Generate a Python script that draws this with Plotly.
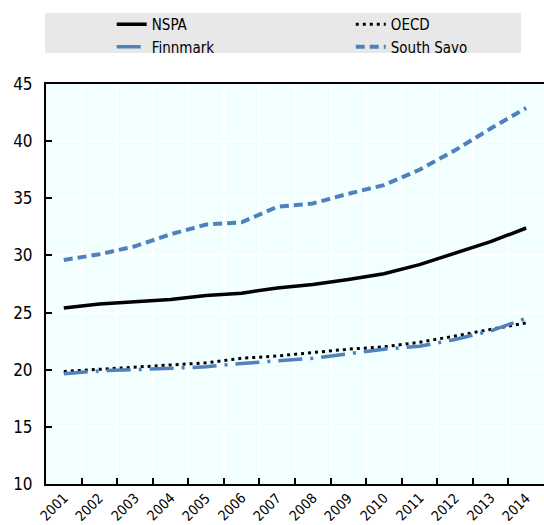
import plotly.graph_objects as go

BLUE = "#4F81BD"
FONT = "Liberation Sans Narrow, DejaVu Sans Condensed, Liberation Sans, sans-serif"

years = [str(y) for y in range(2001, 2015)]
nspa = [25.4, 25.75, 25.95, 26.15, 26.5, 26.7, 27.15, 27.45, 27.9, 28.4, 29.2, 30.2, 31.2, 32.4]
oecd = [19.85, 20.05, 20.25, 20.4, 20.6, 21.0, 21.2, 21.5, 21.8, 22.0, 22.4, 22.95, 23.5, 24.1]
finnmark = [19.65, 19.9, 20.0, 20.1, 20.25, 20.55, 20.75, 21.0, 21.4, 21.8, 22.05, 22.65, 23.4, 24.5]
south_savo = [29.6, 30.1, 30.8, 31.85, 32.7, 32.9, 34.25, 34.55, 35.4, 36.15, 37.5, 39.2, 41.1, 42.9]

fig = go.Figure()
fig.add_trace(go.Scatter(x=years, y=nspa, name="NSPA", mode="lines", legend="legend",
                         line=dict(color="black", width=3.5)))
fig.add_trace(go.Scatter(x=years, y=oecd, name="OECD", mode="lines", legend="legend2",
                         line=dict(color="black", width=3, dash="3px,4px")))
fig.add_trace(go.Scatter(x=years, y=finnmark, name="Finnmark", mode="lines", legend="legend",
                         line=dict(color=BLUE, width=3.5, dash="24px,8px,3px,8px")))
fig.add_trace(go.Scatter(x=years, y=south_savo, name="South Savo", mode="lines", legend="legend2",
                         line=dict(color=BLUE, width=4, dash="9px,5px")))

# grey band behind the legend
fig.add_shape(type="rect", xref="paper", yref="paper",
              x0=-0.002, x1=0.954, y0=1.0775, y1=1.1775,
              fillcolor="#E8E8E8", line_width=0, layer="below")

# slanted year labels, centred a little left of each category like the original
# (category index as x, since "2001" would be read as a number)
for i, yr in enumerate(years):
    fig.add_annotation(x=i, y=0, xref="x", yref="paper", text=yr,
                       textangle=-45, showarrow=False,
                       xanchor="center", yanchor="middle",
                       xshift=-10, yshift=-23, font=dict(size=14))

leg = dict(y=1.19, xanchor="left", yanchor="top", bgcolor="rgba(0,0,0,0)",
           font=dict(size=15), tracegroupgap=0)

fig.update_layout(
    width=544, height=525,
    margin=dict(l=46, r=0, t=84, b=41),
    paper_bgcolor="white", plot_bgcolor="#F2FFFF",
    font=dict(family=FONT, size=16, color="black"),
    showlegend=True,
    legend=dict(x=0.132, **leg),
    legend2=dict(x=0.612, **leg),
    yaxis=dict(range=[10, 45], dtick=5, showgrid=True, gridcolor="white",
               gridwidth=1.5, zeroline=False,
               showline=True, linecolor="black", linewidth=2,
               ticks="inside", ticklen=6, tickwidth=2, tickcolor="black",
               tickfont=dict(size=17), ticklabelstandoff=8, automargin=False),
    xaxis=dict(type="category", range=[-0.5, len(years) - 0.5],
               tickson="boundaries", showticklabels=False,
               showgrid=True, gridcolor="white", gridwidth=1.5,
               showline=True, linecolor="black", linewidth=2, mirror=True,
               ticks="inside", ticklen=6, tickwidth=2, tickcolor="black",
               automargin=False),
)

# drop the page's default body margin so the chart sits at the window origin
fig.write_html("out.html", config={"displayModeBar": False},
               post_script="document.body.style.margin='0';")
